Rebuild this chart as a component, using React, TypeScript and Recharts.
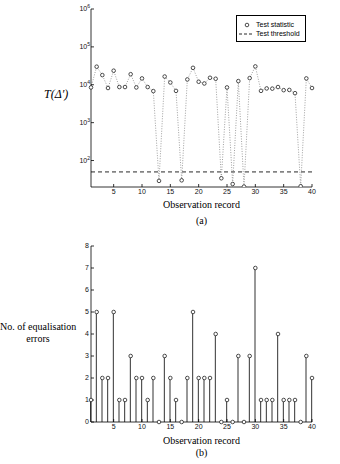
import { ComposedChart, Line, Bar, XAxis, YAxis, ReferenceLine } from 'recharts';

const records = [
  1, 2, 3, 4, 5, 6, 7, 8, 9, 10, 11, 12, 13, 14, 15, 16, 17, 18, 19, 20,
  21, 22, 23, 24, 25, 26, 27, 28, 29, 30, 31, 32, 33, 34, 35, 36, 37, 38, 39, 40,
];

// test statistic T(Δ') per record (log scale)
const testStatistic = [
  8500, 30000, 18000, 8200, 23500, 8700, 8700, 19000, 8500, 14700,
  8700, 6800, 29, 16500, 11500, 6900, 30, 13800, 28000, 12000,
  10800, 15300, 14400, 34, 8500, 24, 12500, 20.5, 15000, 30500,
  6900, 8000, 7900, 8700, 7200, 7300, 6000, 21, 14700, 8200,
];

const testThreshold = 50;

// number of equalisation errors per record
const errorCounts = [
  1, 5, 2, 2, 5, 1, 1, 3, 2, 2,
  1, 2, 0, 3, 2, 1, 0, 2, 5, 2,
  2, 2, 4, 0, 1, 0, 3, 0, 3, 7,
  1, 1, 1, 4, 1, 1, 1, 0, 3, 2,
];

const xTicks = [5, 10, 15, 20, 25, 30, 35, 40];
const logTicks = [100, 1000, 10000, 100000, 1000000];
const errorTicks = [0, 1, 2, 3, 4, 5, 6, 7, 8];

const topData = records.map((r, i) => ({ x: r, t: testStatistic[i] }));
const bottomData = records.map((r, i) => ({ x: r, v: errorCounts[i] }));

const tickFont = { fontFamily: 'Liberation Sans, Arial, sans-serif', fontSize: 7, fill: '#111' };
const serif = 'Liberation Serif, Times New Roman, serif';

const PowTick = ({ x, y, payload }: any) => {
  const exp = Math.round(Math.log10(payload.value));
  return (
    <text x={x} y={y} textAnchor="end" style={tickFont}>
      <tspan dy="0.35em">10</tspan>
      <tspan dy={-3} fontSize={5}>{exp}</tspan>
    </text>
  );
};

const axisStroke = { stroke: '#000', strokeWidth: 0.8 };

export default function App() {
  return (
    <div style={{ position: 'absolute', top: 0, left: 0, width: 340, height: 464, background: '#fff' }}>
      {/* (a) test statistic */}
      <div style={{ position: 'absolute', top: 0, left: 0 }}>
        <ComposedChart width={340} height={200} data={topData} margin={{ top: 9, right: 28, bottom: 1, left: 61 }}>
          <XAxis
            xAxisId="b"
            dataKey="x"
            type="number"
            domain={[1, 40]}
            ticks={xTicks}
            height={12}
            tickSize={-3}
            tickMargin={5}
            axisLine={axisStroke}
            tickLine={axisStroke}
            tick={tickFont}
          />
          <XAxis xAxisId="t" orientation="top" dataKey="x" type="number" domain={[1, 40]} ticks={xTicks} height={0} tickSize={-3} tick={false} axisLine={axisStroke} tickLine={axisStroke} />
          <YAxis
            yAxisId="l"
            scale="log"
            domain={[20, 1000000]}
            ticks={logTicks}
            allowDataOverflow
            width={30}
            tickSize={-3}
            tickMargin={4}
            axisLine={axisStroke}
            tickLine={axisStroke}
            tick={<PowTick />}
          />
          <YAxis yAxisId="r" orientation="right" scale="log" domain={[20, 1000000]} ticks={logTicks} allowDataOverflow width={0} tickSize={-3} tick={false} axisLine={axisStroke} tickLine={axisStroke} />
          <ReferenceLine xAxisId="b" yAxisId="l" y={testThreshold} stroke="#111" strokeWidth={0.9} strokeDasharray="4 3" />
          <Line
            xAxisId="b"
            yAxisId="l"
            type="linear"
            dataKey="t"
            stroke="#888"
            strokeWidth={0.8}
            strokeDasharray="1 1.5"
            dot={{ r: 1.8, stroke: '#222', strokeWidth: 0.8, fill: '#fff', strokeDasharray: '' }}
            isAnimationActive={false}
          />
        </ComposedChart>
      </div>
      <div style={{ position: 'absolute', top: 15, left: 236, width: 70, height: 27, border: '1px solid #000', fontFamily: 'Liberation Sans, Arial, sans-serif', fontSize: 7, lineHeight: '9px', boxSizing: 'border-box', background: '#fff', whiteSpace: 'nowrap' }}>
        <div style={{ position: 'absolute', top: 4, left: 4, display: 'flex', alignItems: 'center' }}>
          <svg width={12} height={8}><circle cx={6} cy={4} r={1.8} stroke="#222" strokeWidth={0.8} fill="#fff" /></svg>
          <span style={{ marginLeft: 3 }}>Test statistic</span>
        </div>
        <div style={{ position: 'absolute', top: 13, left: 1, display: 'flex', alignItems: 'center' }}>
          <svg width={15} height={8}><line x1={1} y1={4} x2={14} y2={4} stroke="#111" strokeWidth={0.9} strokeDasharray="3 2" /></svg>
          <span style={{ marginLeft: 3 }}>Test threshold</span>
        </div>
      </div>
      <div style={{ position: 'absolute', top: 87, left: 44, fontFamily: serif, fontStyle: 'italic', fontSize: 12, whiteSpace: 'nowrap' }}>T(Δ′)</div>
      <div style={{ position: 'absolute', top: 199, left: 91, width: 221, textAlign: 'center', fontFamily: serif, fontSize: 10 }}>Observation record</div>
      <div style={{ position: 'absolute', top: 215, left: 91, width: 221, textAlign: 'center', fontFamily: serif, fontSize: 10 }}>(a)</div>

      {/* (b) equalisation errors */}
      <div style={{ position: 'absolute', top: 240, left: 0 }}>
        <ComposedChart width={340} height={200} data={bottomData} margin={{ top: 6, right: 28, bottom: 6, left: 61 }}>
          <XAxis
            xAxisId="b"
            dataKey="x"
            type="number"
            domain={[1, 40]}
            ticks={xTicks}
            height={12}
            tickSize={-3}
            tickMargin={5}
            axisLine={axisStroke}
            tickLine={axisStroke}
            tick={tickFont}
          />
          <XAxis xAxisId="t" orientation="top" dataKey="x" type="number" domain={[1, 40]} ticks={xTicks} height={0} tickSize={-3} tick={false} axisLine={axisStroke} tickLine={axisStroke} />
          <YAxis
            yAxisId="l"
            domain={[0, 8]}
            ticks={errorTicks}
            width={30}
            tickSize={-3}
            tickMargin={5}
            axisLine={axisStroke}
            tickLine={axisStroke}
            tick={tickFont}
          />
          <YAxis yAxisId="r" orientation="right" domain={[0, 8]} ticks={errorTicks} width={0} tickSize={-3} tick={false} axisLine={axisStroke} tickLine={axisStroke} />
          <Bar xAxisId="b" yAxisId="l" dataKey="v" barSize={1} fill="#333" isAnimationActive={false} />
          <Line
            xAxisId="b"
            yAxisId="l"
            dataKey="v"
            stroke="none"
            dot={{ r: 1.8, stroke: '#222', strokeWidth: 0.8, fill: '#fff' }}
            isAnimationActive={false}
          />
        </ComposedChart>
      </div>
      <div style={{ position: 'absolute', top: 321, left: 0, width: 76, textAlign: 'center', fontFamily: serif, fontSize: 10, lineHeight: '12px', whiteSpace: 'nowrap' }}>
        No. of equalisation<br />errors
      </div>
      <div style={{ position: 'absolute', top: 435, left: 91, width: 221, textAlign: 'center', fontFamily: serif, fontSize: 10 }}>Observation record</div>
      <div style={{ position: 'absolute', top: 447, left: 91, width: 221, textAlign: 'center', fontFamily: serif, fontSize: 10 }}>(b)</div>
    </div>
  );
}
